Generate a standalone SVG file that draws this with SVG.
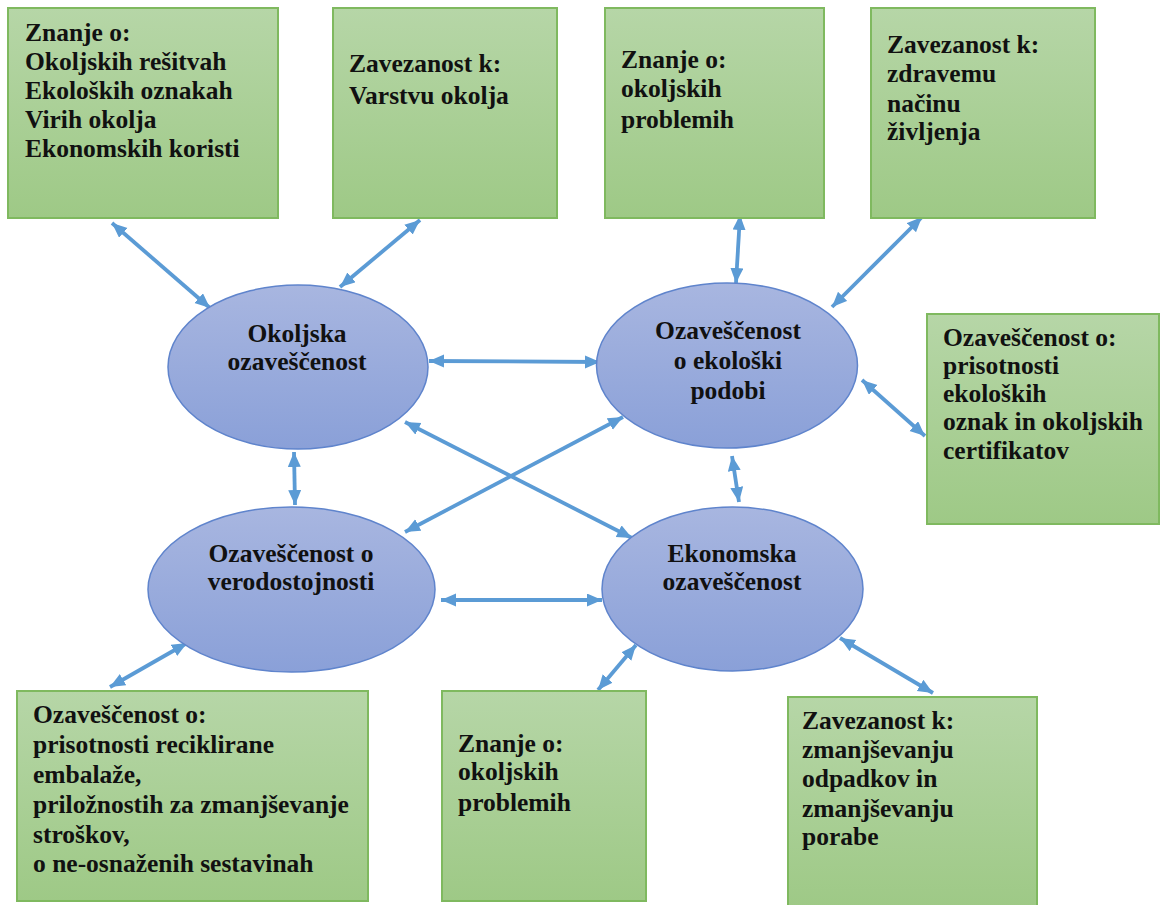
<svg xmlns="http://www.w3.org/2000/svg" width="1161" height="905" viewBox="0 0 1161 905">
<defs>
<linearGradient id="gBox" x1="0" y1="0" x2="0" y2="1">
<stop offset="0" stop-color="#b6d6a7"/>
<stop offset="1" stop-color="#9ec986"/>
</linearGradient>
<linearGradient id="gEll" x1="0" y1="0" x2="0" y2="1">
<stop offset="0" stop-color="#a8b6e0"/>
<stop offset="1" stop-color="#8aa0d8"/>
</linearGradient>
<marker id="ah" markerUnits="userSpaceOnUse" markerWidth="17" markerHeight="15" refX="15" refY="6.5" orient="auto-start-reverse">
<path d="M0,0 L15,6.5 L0,13 z" fill="#5b9bd5"/>
</marker>
<style>
.box{fill:url(#gBox);stroke:#7fb95f;stroke-width:2}
.ell{fill:url(#gEll);stroke:#5f84cc;stroke-width:1.5}
text{font-family:"Liberation Serif","Times New Roman",serif;font-weight:bold;font-size:25.5px;fill:#111}
.c{text-anchor:middle}
.con line{stroke:#5b9bd5;stroke-width:3.8;marker-start:url(#ah);marker-end:url(#ah)}
</style>
</defs>
<rect width="1161" height="905" fill="#fff"/>

<g id="connectors" class="con">
<line x1="112" y1="223" x2="210" y2="308"/>
<line x1="420" y1="220" x2="340" y2="287"/>
<line x1="429" y1="361" x2="600" y2="362"/>
<line x1="740" y1="215" x2="736" y2="283"/>
<line x1="922" y1="217" x2="832" y2="307"/>
<line x1="862" y1="380" x2="925" y2="436"/>
<line x1="294" y1="452" x2="295" y2="505"/>
<line x1="405" y1="422" x2="632" y2="538"/>
<line x1="623" y1="417" x2="405" y2="532"/>
<line x1="732" y1="456" x2="739" y2="502"/>
<line x1="441" y1="600" x2="602" y2="600"/>
<line x1="187" y1="643" x2="110" y2="687"/>
<line x1="636" y1="645" x2="598" y2="690"/>
<line x1="840" y1="638" x2="933" y2="693"/>
</g>

<g id="box1">
<rect class="box" x="8" y="8" width="270" height="210"/>
<text x="25" y="41">Znanje o:</text>
<text x="25" y="70">Okoljskih rešitvah</text>
<text x="25" y="99">Ekoloških oznakah</text>
<text x="25" y="128">Virih okolja</text>
<text x="25" y="157">Ekonomskih koristi</text>
</g>
<g id="box2">
<rect class="box" x="333" y="8" width="224" height="210"/>
<text x="349" y="72">Zavezanost k:</text>
<text x="349" y="104">Varstvu okolja</text>
</g>
<g id="box3">
<rect class="box" x="605" y="8" width="219" height="210"/>
<text x="621" y="68">Znanje o:</text>
<text x="621" y="97">okoljskih</text>
<text x="621" y="128">problemih</text>
</g>
<g id="box4">
<rect class="box" x="871" y="8" width="224" height="210"/>
<text x="887" y="53">Zavezanost k:</text>
<text x="887" y="82">zdravemu</text>
<text x="887" y="112">načinu</text>
<text x="887" y="140">življenja</text>
</g>
<g id="box5">
<rect class="box" x="927" y="314" width="232" height="210"/>
<text x="943" y="346">Ozaveščenost o:</text>
<text x="943" y="374">prisotnosti</text>
<text x="943" y="402">ekoloških</text>
<text x="943" y="430">oznak in okoljskih</text>
<text x="943" y="459">certifikatov</text>
</g>
<g id="box6">
<rect class="box" x="17" y="691" width="351" height="210"/>
<text x="33" y="723">Ozaveščenost o:</text>
<text x="33" y="753">prisotnosti reciklirane</text>
<text x="33" y="783">embalaže,</text>
<text x="33" y="813">priložnostih za zmanjševanje</text>
<text x="33" y="843">stroškov,</text>
<text x="33" y="872">o ne-osnaženih sestavinah</text>
</g>
<g id="box7">
<rect class="box" x="442" y="691" width="204" height="210"/>
<text x="458" y="752">Znanje o:</text>
<text x="458" y="780">okoljskih</text>
<text x="458" y="811">problemih</text>
</g>
<g id="box8">
<rect class="box" x="788" y="697" width="249" height="212"/>
<text x="802" y="729">Zavezanost k:</text>
<text x="802" y="758">zmanjševanju</text>
<text x="802" y="787">odpadkov in</text>
<text x="802" y="817">zmanjševanju</text>
<text x="802" y="845">porabe</text>
</g>

<g id="okoljska">
<ellipse class="ell" cx="298" cy="367" rx="130" ry="82"/>
<text class="c" x="297" y="342">Okoljska</text>
<text class="c" x="297" y="370">ozaveščenost</text>
</g>
<g id="podoba">
<ellipse class="ell" cx="727" cy="365.5" rx="130.5" ry="82.5"/>
<text class="c" x="728" y="339">Ozaveščenost</text>
<text class="c" x="728" y="369">o ekološki</text>
<text class="c" x="728" y="399">podobi</text>
</g>
<g id="verodostojnost">
<ellipse class="ell" cx="291.5" cy="589.5" rx="143.5" ry="82.5"/>
<text class="c" x="291" y="562">Ozaveščenost o</text>
<text class="c" x="291" y="590">verodostojnosti</text>
</g>
<g id="ekonomska">
<ellipse class="ell" cx="732.5" cy="589" rx="130.5" ry="82"/>
<text class="c" x="732" y="562">Ekonomska</text>
<text class="c" x="732" y="590">ozaveščenost</text>
</g>
</svg>
